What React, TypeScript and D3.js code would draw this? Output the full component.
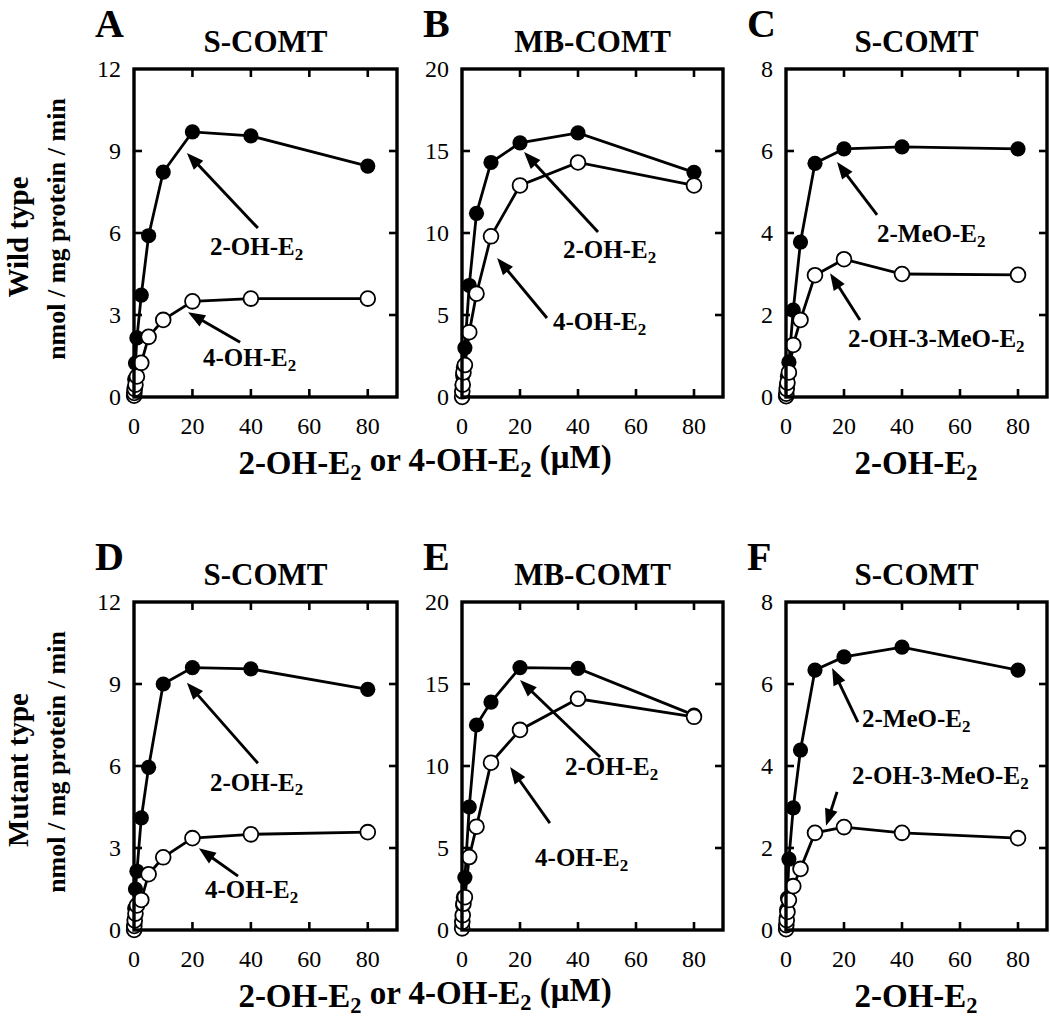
import * as d3 from "d3";

// substrate concentrations (µM) shared by every panel
const concentrations = [0.05, 0.1, 0.25, 0.5, 1, 2.5, 5, 10, 20, 40, 80];
const xTicks = [0, 20, 40, 60, 80];

// A: wild type S-COMT
const aFilled = [0.1, 0.3, 0.65, 1.24, 2.16, 3.73, 5.9, 8.23, 9.7, 9.55, 8.45];
const aOpen = [0.05, 0.15, 0.3, 0.45, 0.75, 1.25, 2.2, 2.82, 3.5, 3.6, 3.6];
// B: wild type MB-COMT
const bFilled = [0.3, 0.7, 1.3, 1.8, 3.0, 6.8, 11.2, 14.3, 15.5, 16.1, 13.7];
const bOpen = [0.0, 0.35, 0.75, 1.5, 1.95, 3.95, 6.3, 9.8, 12.9, 14.3, 12.9];
// C: wild type S-COMT, 2-OH-E2 products
const cFilled = [0.05, 0.15, 0.3, 0.5, 0.85, 2.12, 3.78, 5.7, 6.05, 6.1, 6.05];
const cOpen = [0.02, 0.08, 0.2, 0.35, 0.6, 1.27, 1.88, 2.97, 3.36, 3.0, 2.98];
// D: mutant S-COMT
const dFilled = [0.1, 0.4, 0.8, 1.5, 2.15, 4.1, 5.95, 9.0, 9.6, 9.55, 8.8];
const dOpen = [0.0, 0.15, 0.35, 0.6, 0.9, 1.1, 2.04, 2.66, 3.36, 3.5, 3.58];
// E: mutant MB-COMT
const eFilled = [0.3, 0.8, 1.5, 2.0, 3.2, 7.5, 12.5, 13.9, 16.0, 15.95, 13.1];
const eOpen = [0.1, 0.5, 0.9, 1.6, 2.0, 4.45, 6.3, 10.2, 12.2, 14.1, 13.0];
// F: mutant S-COMT, 2-OH-E2 products
const fFilled = [0.1, 0.3, 0.5, 0.78, 1.73, 2.98, 4.39, 6.34, 6.66, 6.9, 6.34];
const fOpen = [0.02, 0.12, 0.24, 0.44, 0.73, 1.07, 1.49, 2.37, 2.51, 2.37, 2.24];

const ticks12 = [0, 3, 6, 9, 12];
const ticks20 = [0, 5, 10, 15, 20];
const ticks8 = [0, 2, 4, 6, 8];

// arrow notes, in data units: tip, tail, label start (x, baseline)
interface INote { text: string; tip: [number, number]; tail: [number, number]; at: [number, number] }
const aNotes: INote[] = [
    { text: "2-OH-E", tip: [18.1, 8.93], tail: [42.4, 6.18], at: [26, 5.2] },
    { text: "4-OH-E", tip: [18.5, 3.1], tail: [36.3, 2.0], at: [23.6, 1.13] },
];
const bNotes: INote[] = [
    { text: "2-OH-E", tip: [21.4, 14.94], tail: [46.9, 10.06], at: [34.8, 8.48] },
    { text: "4-OH-E", tip: [12.1, 8.48], tail: [29.3, 4.82], at: [31.4, 4.09] },
];
const cNotes: INote[] = [
    { text: "2-MeO-E", tip: [17.6, 5.73], tail: [31.4, 4.44], at: [31.4, 3.78] },
    { text: "2-OH-3-MeO-E", tip: [15.2, 3.02], tail: [25.5, 1.88], at: [21.4, 1.22] },
];
const dNotes: INote[] = [
    { text: "2-OH-E", tip: [18.1, 9.05], tail: [42.4, 6.1], at: [26, 5.1] },
    { text: "4-OH-E", tip: [22.2, 2.99], tail: [35.6, 1.97], at: [24.3, 1.17] },
];
const eNotes: INote[] = [
    { text: "2-OH-E", tip: [20, 15.24], tail: [47.6, 10.55], at: [35.5, 9.45] },
    { text: "4-OH-E", tip: [16.6, 9.94], tail: [30.3, 6.52], at: [25.2, 3.9] },
];
const fNotes: INote[] = [
    { text: "2-MeO-E", tip: [15.9, 6.39], tail: [24.8, 5.07], at: [26.2, 4.95] },
    { text: "2-OH-3-MeO-E", tip: [13.8, 2.54], tail: [17.6, 3.37], at: [22.8, 3.56] },
];

const FONT = "'Liberation Serif', 'Times New Roman', serif";

interface IPanel {
    letter: string;
    title: string;
    left: number;
    top: number;
    width: number;
    height: number;
    yMax: number;
    yTicks: number[];
    filled: number[];
    open: number[];
    notes: INote[];
}

const colLeft = [134, 462, 786];
const colWidth = [263, 261, 261];
const rowTop = [69, 602];
const rowHeight = [328, 328];

const panels: IPanel[] = [
    { letter: "A", title: "S-COMT", yMax: 12, yTicks: ticks12, filled: aFilled, open: aOpen, notes: aNotes, left: colLeft[0], width: colWidth[0], top: rowTop[0], height: rowHeight[0] },
    { letter: "B", title: "MB-COMT", yMax: 20, yTicks: ticks20, filled: bFilled, open: bOpen, notes: bNotes, left: colLeft[1], width: colWidth[1], top: rowTop[0], height: rowHeight[0] },
    { letter: "C", title: "S-COMT", yMax: 8, yTicks: ticks8, filled: cFilled, open: cOpen, notes: cNotes, left: colLeft[2], width: colWidth[2], top: rowTop[0], height: rowHeight[0] },
    { letter: "D", title: "S-COMT", yMax: 12, yTicks: ticks12, filled: dFilled, open: dOpen, notes: dNotes, left: colLeft[0], width: colWidth[0], top: rowTop[1], height: rowHeight[1] },
    { letter: "E", title: "MB-COMT", yMax: 20, yTicks: ticks20, filled: eFilled, open: eOpen, notes: eNotes, left: colLeft[1], width: colWidth[1], top: rowTop[1], height: rowHeight[1] },
    { letter: "F", title: "S-COMT", yMax: 8, yTicks: ticks8, filled: fFilled, open: fOpen, notes: fNotes, left: colLeft[2], width: colWidth[2], top: rowTop[1], height: rowHeight[1] },
];

function Sub({ text }: { text: string }) {
    // label with trailing subscript 2
    return (
        <>
            {text}
            <tspan fontSize="0.68em" dy="0.28em">2</tspan>
        </>
    );
}

function Arrow({ x1, y1, x2, y2 }: { x1: number; y1: number; x2: number; y2: number }) {
    const ang = Math.atan2(y2 - y1, x2 - x1);
    const len = 17, half = 6.5;
    const bx = x2 - len * Math.cos(ang), by = y2 - len * Math.sin(ang);
    const px = -Math.sin(ang) * half, py = Math.cos(ang) * half;
    return (
        <g>
            <line x1={x1} y1={y1} x2={bx + 2 * Math.cos(ang)} y2={by + 2 * Math.sin(ang)} stroke="black" strokeWidth={2.9} />
            <path d={`M${x2},${y2}L${bx + px},${by + py}L${bx - px},${by - py}Z`} fill="black" />
        </g>
    );
}

function Panel({ p }: { p: IPanel }) {
    const x = d3.scaleLinear().domain([0, 90]).range([p.left, p.left + p.width]);
    const y = d3.scaleLinear().domain([0, p.yMax]).range([p.top + p.height, p.top]);
    const line = d3.line<number>().x((_, i) => x(concentrations[i])).y(d => y(d));
    const bottom = p.top + p.height;
    const right = p.left + p.width;
    const tk = 8;

    return (
        <g>
            <text x={p.left - 39} y={p.top - 32} fontSize={40} fontWeight="bold" fontFamily={FONT}>{p.letter}</text>
            <text x={(p.left + right) / 2} y={p.top - 17} fontSize={31} fontWeight="bold" textAnchor="middle" fontFamily={FONT}>{p.title}</text>

            {/* data */}
            <path d={line(p.filled) ?? ""} fill="none" stroke="black" strokeWidth={2.8} />
            {p.filled.map((v, i) => (
                <circle key={"f" + i} cx={x(concentrations[i])} cy={y(v)} r={7.6} fill="black" />
            ))}
            <path d={line(p.open) ?? ""} fill="none" stroke="black" strokeWidth={2.8} />
            {p.open.map((v, i) => (
                <circle key={"o" + i} cx={x(concentrations[i])} cy={y(v)} r={7.4} fill="white" stroke="black" strokeWidth={1.8} />
            ))}

            {/* frame and inward ticks */}
            <rect x={p.left} y={p.top} width={p.width} height={p.height} fill="none" stroke="black" strokeWidth={3.4} />
            {xTicks.filter(t => t > 0).map(t => (
                <g key={"xt" + t}>
                    <line x1={x(t)} x2={x(t)} y1={bottom} y2={bottom - tk} stroke="black" strokeWidth={2.6} />
                    <line x1={x(t)} x2={x(t)} y1={p.top} y2={p.top + tk} stroke="black" strokeWidth={2.6} />
                </g>
            ))}
            {p.yTicks.filter(t => t > 0 && t < p.yMax).map(t => (
                <g key={"yt" + t}>
                    <line x1={p.left} x2={p.left + tk} y1={y(t)} y2={y(t)} stroke="black" strokeWidth={2.6} />
                    <line x1={right} x2={right - tk} y1={y(t)} y2={y(t)} stroke="black" strokeWidth={2.6} />
                </g>
            ))}
            {xTicks.map(t => (
                <text key={"xl" + t} x={x(t)} y={bottom + 37} fontSize={24} textAnchor="middle" fontFamily={FONT}>{t}</text>
            ))}
            {p.yTicks.map(t => (
                <text key={"yl" + t} x={p.left - 13} y={y(t) + 8} fontSize={24} textAnchor="end" fontFamily={FONT}>{t}</text>
            ))}

            {/* annotations */}
            {p.notes.map((n, i) => (
                <g key={"n" + i}>
                    <Arrow x1={x(n.tail[0])} y1={y(n.tail[1])} x2={x(n.tip[0])} y2={y(n.tip[1])} />
                    <text x={x(n.at[0])} y={y(n.at[1])} fontSize={25} fontWeight="bold" fontFamily={FONT}>
                        <Sub text={n.text} />
                    </text>
                </g>
            ))}
        </g>
    );
}

export default function App() {
    const rowLabels = ["Wild type", "Mutant type"];
    return (
        <svg width={1050} height={1019} style={{ position: "absolute", left: 0, top: 0, background: "white" }}>
            <rect width={1050} height={1019} fill="white" />
            {panels.map(p => <Panel key={p.letter} p={p} />)}
            {rowTop.map((top, r) => {
                const mid = top + rowHeight[r] / 2;
                const base = top + rowHeight[r] + 77;
                return (
                    <g key={"row" + r} fontFamily={FONT} fontWeight="bold">
                        <text transform={`translate(28, ${mid + 4}) rotate(-90)`} fontSize={29} textAnchor="middle">{rowLabels[r]}</text>
                        <text transform={`translate(65, ${mid - 4}) rotate(-90)`} fontSize={26} textAnchor="middle">nmol / mg protein / min</text>
                        <text x={425} y={base} fontSize={33} textAnchor="middle">
                            <Sub text="2-OH-E" /><tspan dy="-0.28em"> or 4-OH-E</tspan><tspan fontSize="0.68em" dy="0.28em">2</tspan><tspan dy="-0.28em"> (μM)</tspan>
                        </text>
                        <text x={916} y={base} fontSize={33} textAnchor="middle"><Sub text="2-OH-E" /></text>
                    </g>
                );
            })}
        </svg>
    );
}
